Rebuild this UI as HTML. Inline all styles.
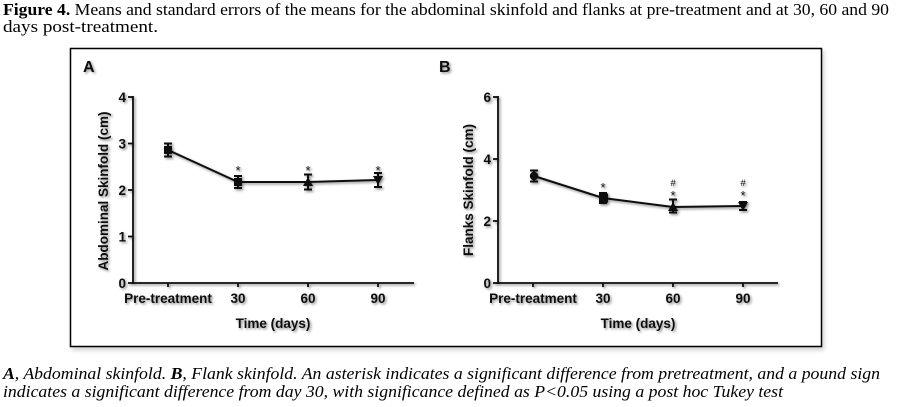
<!DOCTYPE html>
<html><head><meta charset="utf-8">
<style>
html,body{margin:0;padding:0;background:#fff;}
svg{display:block;}
</style></head>
<body>
<svg width="898" height="407" viewBox="0 0 898 407" xmlns="http://www.w3.org/2000/svg">
<defs>
<filter id="sh" x="-20%" y="-20%" width="140%" height="140%">
<feDropShadow dx="1.5" dy="1.5" stdDeviation="1.3" flood-color="#000" flood-opacity="0.45"/>
</filter>
<filter id="bsh" x="-5%" y="-5%" width="110%" height="115%">
<feDropShadow dx="2" dy="3" stdDeviation="2.5" flood-color="#000" flood-opacity="0.18"/>
</filter>
</defs>

<!-- Title -->
<text x="3" y="15" font-family="Liberation Serif, serif" font-size="16.5" fill="#000" textLength="886" lengthAdjust="spacingAndGlyphs"><tspan font-weight="bold">Figure 4.</tspan> Means and standard errors of the means for the abdominal skinfold and flanks at pre-treatment and at 30, 60 and 90</text>
<text x="3" y="32" font-family="Liberation Serif, serif" font-size="16.5" fill="#000" textLength="155" lengthAdjust="spacingAndGlyphs">days post-treatment.</text>

<!-- Box -->
<rect x="70.5" y="48.5" width="751" height="298" fill="#fff" stroke="#000" stroke-width="1.5" filter="url(#bsh)"/>

<g filter="url(#sh)" font-family="Liberation Sans, Arial, sans-serif" font-weight="bold" fill="#111">
<!-- Panel letters -->
<text x="83" y="72" font-size="16">A</text>
<text x="439" y="72" font-size="16">B</text>

<!-- ===== Panel A ===== -->
<g stroke="#111" stroke-width="1.8" fill="none">
<line x1="133" y1="96" x2="133" y2="284"/>
<line x1="132" y1="283" x2="414" y2="283"/>
<line x1="128" y1="97" x2="133" y2="97"/>
<line x1="128" y1="143.5" x2="133" y2="143.5"/>
<line x1="128" y1="190" x2="133" y2="190"/>
<line x1="128" y1="236.5" x2="133" y2="236.5"/>
<line x1="128" y1="283" x2="133" y2="283"/>
<line x1="168" y1="283" x2="168" y2="287"/>
<line x1="238" y1="283" x2="238" y2="287"/>
<line x1="308" y1="283" x2="308" y2="287"/>
<line x1="378" y1="283" x2="378" y2="287"/>
</g>
<g font-size="13.5" text-anchor="end">
<text x="126" y="102">4</text>
<text x="126" y="148.5">3</text>
<text x="126" y="195">2</text>
<text x="126" y="241.5">1</text>
<text x="126" y="288">0</text>
</g>
<g font-size="13.5" text-anchor="middle">
<text x="168" y="303">Pre-treatment</text>
<text x="238" y="303">30</text>
<text x="308" y="303">60</text>
<text x="378" y="303">90</text>
<text x="273" y="328">Time (days)</text>
</g>
<text transform="translate(108,191) rotate(-90)" font-size="13.5" text-anchor="middle">Abdominal Skinfold (cm)</text>

<!-- data A -->
<polyline points="168,150 238,182 308,182 378,180" stroke="#111" stroke-width="2" fill="none"/>
<g stroke="#111" stroke-width="2" fill="none">
<line x1="168" y1="143.5" x2="168" y2="156.5"/><line x1="164" y1="143.5" x2="172" y2="143.5"/><line x1="164" y1="156.5" x2="172" y2="156.5"/>
<line x1="238" y1="176" x2="238" y2="188"/><line x1="234" y1="176" x2="242" y2="176"/><line x1="234" y1="188" x2="242" y2="188"/>
<line x1="308" y1="174.5" x2="308" y2="189.5"/><line x1="304" y1="174.5" x2="312" y2="174.5"/><line x1="304" y1="189.5" x2="312" y2="189.5"/>
<line x1="378" y1="173" x2="378" y2="187"/><line x1="374" y1="173" x2="382" y2="173"/><line x1="374" y1="187" x2="382" y2="187"/>
</g>
<rect x="164" y="146" width="8" height="8" fill="#111"/>
<rect x="234" y="178" width="8" height="8" fill="#111"/>
<polygon points="308,177 313,186 303,186" fill="#111"/>
<polygon points="373,176 383,176 378,185" fill="#111"/>
<g font-size="13" font-weight="normal" text-anchor="middle">
<text x="238" y="175">*</text>
<text x="308" y="175">*</text>
<text x="378" y="175">*</text>
</g>

<!-- ===== Panel B ===== -->
<g stroke="#111" stroke-width="1.8" fill="none">
<line x1="498" y1="96" x2="498" y2="284"/>
<line x1="497" y1="283" x2="778" y2="283"/>
<line x1="493" y1="97" x2="498" y2="97"/>
<line x1="493" y1="159" x2="498" y2="159"/>
<line x1="493" y1="221" x2="498" y2="221"/>
<line x1="493" y1="283" x2="498" y2="283"/>
<line x1="533" y1="283" x2="533" y2="287"/>
<line x1="603" y1="283" x2="603" y2="287"/>
<line x1="673" y1="283" x2="673" y2="287"/>
<line x1="743" y1="283" x2="743" y2="287"/>
</g>
<g font-size="13.5" text-anchor="end">
<text x="491" y="102">6</text>
<text x="491" y="164">4</text>
<text x="491" y="226">2</text>
<text x="491" y="288">0</text>
</g>
<g font-size="13.5" text-anchor="middle">
<text x="533" y="303">Pre-treatment</text>
<text x="603" y="303">30</text>
<text x="673" y="303">60</text>
<text x="743" y="303">90</text>
<text x="638" y="328">Time (days)</text>
</g>
<text transform="translate(473,190) rotate(-90)" font-size="13.5" text-anchor="middle">Flanks Skinfold (cm)</text>

<!-- data B -->
<polyline points="534,176 603,198 673,207 743,206" stroke="#111" stroke-width="2" fill="none"/>
<g stroke="#111" stroke-width="2" fill="none">
<line x1="534" y1="170.5" x2="534" y2="181.5"/><line x1="530" y1="170.5" x2="538" y2="170.5"/><line x1="530" y1="181.5" x2="538" y2="181.5"/>
<line x1="603" y1="193" x2="603" y2="203"/><line x1="599" y1="193" x2="607" y2="193"/><line x1="599" y1="203" x2="607" y2="203"/>
<line x1="673" y1="199.5" x2="673" y2="212.5"/><line x1="669" y1="199.5" x2="677" y2="199.5"/><line x1="669" y1="212.5" x2="677" y2="212.5"/>
<line x1="743" y1="202" x2="743" y2="210"/><line x1="739" y1="202" x2="747" y2="202"/><line x1="739" y1="210" x2="747" y2="210"/>
</g>
<circle cx="534" cy="176" r="4.2" fill="#111"/>
<rect x="599" y="193.5" width="9" height="9" fill="#111"/>
<polygon points="673,202 678,211 668,211" fill="#111"/>
<polygon points="738,202 748,202 743,211" fill="#111"/>
<g font-size="13" font-weight="normal" text-anchor="middle">
<text x="603" y="192">*</text>
<text x="673" y="200">*</text>
<text x="743" y="200">*</text>
</g>
<g font-size="9.5" font-weight="normal" text-anchor="middle">
<text x="673" y="186">#</text>
<text x="743" y="186">#</text>
</g>
</g>

<!-- Caption -->
<text x="3" y="379" font-family="Liberation Serif, serif" font-size="17" font-style="italic" fill="#000" textLength="877" lengthAdjust="spacingAndGlyphs"><tspan font-weight="bold">A</tspan>, Abdominal skinfold. <tspan font-weight="bold">B</tspan>, Flank skinfold. An asterisk indicates a significant difference from pretreatment, and a pound sign</text>
<text x="3" y="397" font-family="Liberation Serif, serif" font-size="17" font-style="italic" fill="#000" textLength="780" lengthAdjust="spacingAndGlyphs">indicates a significant difference from day 30, with significance defined as P&lt;0.05 using a post hoc Tukey test</text>
</svg>
</body></html>
